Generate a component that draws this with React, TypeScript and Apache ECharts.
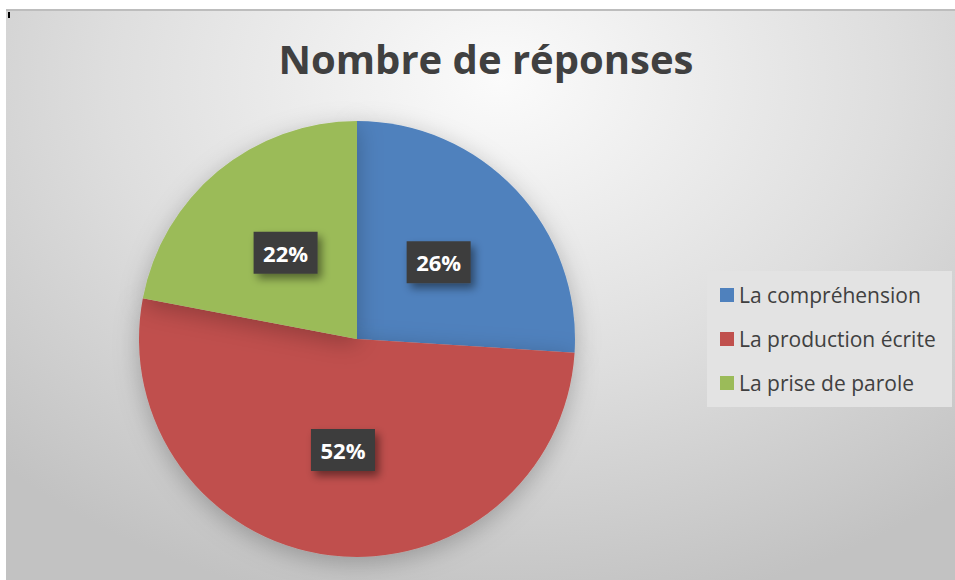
import React, { useEffect, useRef } from "react";
import * as echarts from "echarts";

const titleText = "Nombre de réponses";
const categories = ["La compréhension", "La production écrite", "La prise de parole"];
const values = [26, 52, 22];
const colors = ["#4f81bd", "#c0504d", "#9bbb59"];

export default function App() {
  const ref = useRef<HTMLDivElement>(null);
  useEffect(() => {
    if (!ref.current) return;
    const chart = echarts.init(ref.current, undefined, { renderer: "svg" });
    chart.setOption({
      animation: false,
      backgroundColor: "transparent",
      title: {
        text: titleText,
        left: 475,
        textAlign: "center",
        top: 23,
        textStyle: {
          fontFamily: "Open Sans",
          fontWeight: "bold",
          fontSize: 40,
          color: "#404040",
        },
      },
      graphic: [
        { type: "rect", shape: { x: 701, y: 261, width: 245, height: 136 }, style: { fill: "#e3e3e3" }, z: 0 },
        { type: "rect", shape: { x: 2, y: 2, width: 2, height: 6 }, style: { fill: "#000" } },
      ],
      legend: {
        orient: "vertical",
        left: 709,
        top: 269,
        itemWidth: 14,
        itemHeight: 14,
        itemGap: 22,
        icon: "rect",
        textStyle: { fontFamily: "Open Sans", fontSize: 21, color: "#404040", lineHeight: 22 },
        data: categories,
      },
      series: [
        {
          type: "pie",
          center: [351, 329],
          radius: 218,
          startAngle: 90,
          clockwise: true,
          color: colors,
          itemStyle: {
            shadowBlur: 25,
            shadowColor: "rgba(0,0,0,0.25)",
            shadowOffsetY: 6,
          },
          label: {
            show: true,
            position: "inside",
            formatter: (p: any) => `${Math.round(p.percent)}%`,
            fontFamily: "Open Sans",
            fontWeight: "bold",
            fontSize: 22,
            color: "#ffffff",
            backgroundColor: "#3c3c3c",
            width: 46,
            height: 22,
            lineHeight: 22,
            overflow: "none",
            align: "center",
            padding: [10, 9],
            shadowBlur: 8,
            shadowColor: "rgba(0,0,0,0.45)",
            shadowOffsetX: 4,
            shadowOffsetY: 5,
          },
          labelLine: { show: false },
          emphasis: { disabled: true },
          data: categories.map((c, i) => ({ name: c, value: values[i] })),
        },
      ],
    });
    return () => chart.dispose();
  }, []);
  return (
    <div style={{ position: "fixed", left: 0, top: 0, width: 955, height: 580, background: "#ffffff" }}>
      <div
        style={{
          position: "absolute",
          left: 6,
          top: 9,
          width: 949,
          height: 571,
          borderTop: "2px solid #bdbdbd",
          boxSizing: "border-box",
          background: "radial-gradient(ellipse 75% 95% at 52% 12%, #fbfbfb 0%, #dedede 55%, #c2c2c2 100%)",
        }}
      >
        <div ref={ref} style={{ position: "absolute", left: 0, top: -1, width: 949, height: 570 }} />
      </div>
    </div>
  );
}
